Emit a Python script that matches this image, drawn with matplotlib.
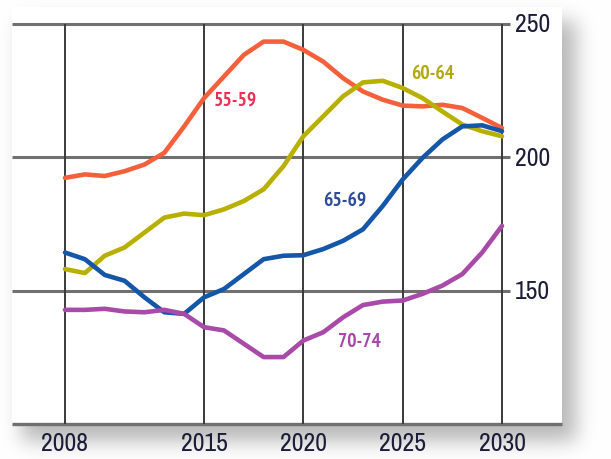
import math
import numpy as np
import matplotlib
matplotlib.use("Agg")
import matplotlib.pyplot as plt
from matplotlib import font_manager
from matplotlib.patches import Rectangle

years = list(range(2008, 2031))
age_55_59 = [192.3, 193.6, 193.0, 194.8, 197.3, 201.7, 211.6, 222.2, 230.3, 238.4, 243.4, 243.4,
             240.3, 235.9, 229.7, 224.7, 221.6, 219.4, 219.1, 219.7, 218.5, 214.8, 211.0]
age_60_64 = [158.1, 156.6, 163.1, 166.2, 171.8, 177.4, 178.9, 178.3, 180.5, 183.6, 188.0, 196.7,
             207.9, 215.4, 222.9, 228.1, 228.7, 226.0, 222.2, 217.2, 212.3, 209.8, 207.9]
age_65_69 = [164.3, 161.8, 155.9, 153.7, 147.5, 141.9, 141.3, 147.5, 150.6, 156.2, 161.8, 163.1,
             163.3, 165.6, 168.7, 173.0, 181.8, 191.7, 199.8, 206.7, 211.6, 212.0, 209.8]
age_70_74 = [142.8, 142.8, 143.2, 142.2, 141.9, 142.8, 141.3, 136.3, 135.1, 130.1, 125.1, 125.1,
             131.3, 134.4, 140.0, 144.6, 145.9, 146.3, 148.8, 151.9, 156.2, 164.3, 174.3]
series_names = ["55-59", "60-64", "65-69", "70-74"]
x_ticks = [2008, 2015, 2020, 2025, 2030]
y_ticks = [150, 200, 250]


def _w(f):
    w = f.weight
    if isinstance(w, str):
        return {"bold": 700, "semibold": 600, "demibold": 600, "heavy": 800,
                "black": 900, "extra bold": 800}.get(w, 400)
    return w


fonts = font_manager.fontManager.ttflist
narrow = sorted({f.name for f in fonts
                 if ("Narrow" in f.name or "Condensed" in f.name)
                 and "Mono" not in f.name and "Serif" not in f.name})
pref = [n for n in narrow if "Narrow" in n] + [n for n in narrow if "Narrow" not in n]
bold_ok = [n for n in pref if any(f.name == n and _w(f) >= 600 for f in fonts)]
if pref:
    FONT = pref[0]
    LAB_FONT = bold_ok[0] if bold_ok else pref[0]
    TICK_FS, LAB_FS = 18.5, 14
else:
    FONT = LAB_FONT = "Liberation Sans"
    TICK_FS, LAB_FS = 16.5, 12.5
plt.rcParams["font.family"] = [FONT, "DejaVu Sans"]

W, H = 611, 460
fig = plt.figure(figsize=(W / 100, H / 100), dpi=100)

# background with soft drop shadow
bg = fig.add_axes([0, 0, 1, 1])
bg.set_xlim(0, W)
bg.set_ylim(H, 0)
bg.axis("off")
xs = np.arange(W) + 0.5
ys = np.arange(H) + 0.5
erf = np.vectorize(math.erf)
s = 14.0
sx = 0.5 * (erf((xs - 22) / s) - erf((xs - 576) / s))
sy = 0.5 * (erf((ys - 22) / s) - erf((ys - 442) / s))
val = 1 - 0.28 * np.outer(sy, sx)
img = np.dstack([val, val, val])
bg.imshow(img, extent=(0, W, H, 0), aspect="auto", interpolation="bilinear", zorder=0)
bg.add_patch(Rectangle((12, 8), 550, 417, facecolor="white", edgecolor="none", zorder=1))

# main axes: pixel mapping 2008->65, 2030->502 ; 250->25, 100->425
ppy = (502 - 65) / 22.0
x_left = 2008 - (65 - 12) / ppy
x_right = 2030 + (562 - 502) / ppy
ax = fig.add_axes([12 / W, (H - 425) / H, 550 / W, 400 / H])
ax.set_xlim(x_left, x_right)
ax.set_ylim(100, 250)
ax.axis("off")
ax.patch.set_alpha(0)

ax.hlines(y_ticks, x_left, 2030 + 8 / ppy, color="#707070", lw=2.2, zorder=2, clip_on=False)
ax.hlines([100], x_left, x_right, color="#707070", lw=2.4, zorder=2, clip_on=False)
ax.vlines(x_ticks, 100, 250, color="#3a3a3a", lw=1.4, zorder=2, clip_on=False)

line_colors = ["#f5603c", "#b8b000", "#1456a8", "#a84aa8"]
text_colors = ["#ee2f55", "#b3a80c", "#2b4c9c", "#a848a8"]
data = [age_55_59, age_60_64, age_65_69, age_70_74]
label_pos = [(2016.6, 221.8), (2026.5, 231.6), (2022.1, 184.0), (2022.8, 131.3)]
for vals, lc, tc, name, (lx, ly) in zip(data, line_colors, text_colors, series_names, label_pos):
    ax.plot(years, vals, color=lc, lw=3.3, solid_joinstyle="round", solid_capstyle="round",
            zorder=3, clip_on=False)
    ax.text(lx, ly, name, color=tc, fontsize=LAB_FS, fontweight="bold", ha="center",
            va="center", zorder=4, family=[LAB_FONT, "DejaVu Sans"])

tick_color = "#1c1c38"
for xt in x_ticks:
    ax.text(xt, 100 - 19 / 2.667, str(xt), ha="center", va="center", fontsize=TICK_FS,
            color=tick_color, clip_on=False)
for yt in y_ticks:
    ax.text(2030 + 13 / ppy, yt, str(yt), ha="left", va="center", fontsize=TICK_FS,
            color=tick_color, clip_on=False)

fig.savefig("out.png", dpi=100)
